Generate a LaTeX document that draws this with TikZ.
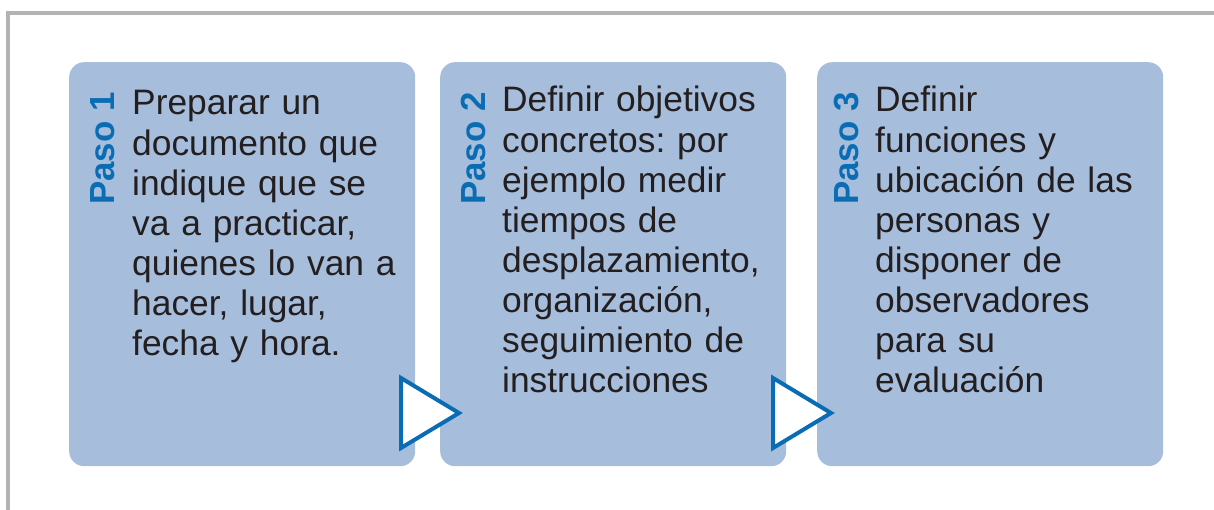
\documentclass[tikz,border=0pt]{standalone}
\usepackage{fontspec}
\setmainfont{Liberation Sans}
\definecolor{boxfill}{HTML}{A7BDDC}
\definecolor{pasoblue}{HTML}{0A6DB3}
\definecolor{txtcol}{HTML}{231F20}
\definecolor{framecol}{HTML}{B3B3B3}
\frenchspacing
\begin{document}
\begin{tikzpicture}[x=1bp,y=-1bp,
  stepbox/.style={fill=boxfill, draw=none, rounded corners=15bp, anchor=north west,
    minimum width=346bp, minimum height=404bp, inner sep=0pt},
  paso/.style={text=pasoblue, font=\fontsize{35}{40}\selectfont\bfseries, rotate=90,
    anchor=base west, inner sep=0pt},
  body/.style={text=txtcol, font=\fontsize{35.5}{40.2}\selectfont\frenchspacing, text width=300bp,
    align=left, anchor=base west, inner sep=0pt},
  tri/.style={draw=pasoblue, fill=white, line width=4bp, line join=miter}]
\useasboundingbox (0,0) rectangle (1214,510);
\draw[framecol, line width=4bp] (8,510) -- (8,13) -- (1214,13);
\node[stepbox] (b1) at (69,62) {};
\node[stepbox] (b2) at (440,62) {};
\node[stepbox] (b3) at (817,62) {};
\node[paso] (p1) at (114,205) {Paso 1};
\node[paso] (p2) at (485,205) {Paso 2};
\node[paso] (p3) at (858,205) {Paso 3};
\node[body] (t1) at (132,115) {Preparar un\\documento que\\indique que se\\va a practicar,\\quienes lo van a\\hacer, lugar,\\fecha y hora.};
\node[body] (t2) at (502,112) {Definir objetivos\\concretos: por\\ejemplo medir\\tiempos de\\desplazamiento,\\organización,\\seguimiento de\\instrucciones};
\node[body] (t3) at (875,112) {Definir\\funciones y\\ubicación de las\\personas y\\disponer de\\observadores\\para su\\evaluación};
\draw[tri] (401,378) -- (459,413) -- (401,448) -- cycle;
\draw[tri] (773,378) -- (831,413) -- (773,448) -- cycle;
\end{tikzpicture}
\end{document}
